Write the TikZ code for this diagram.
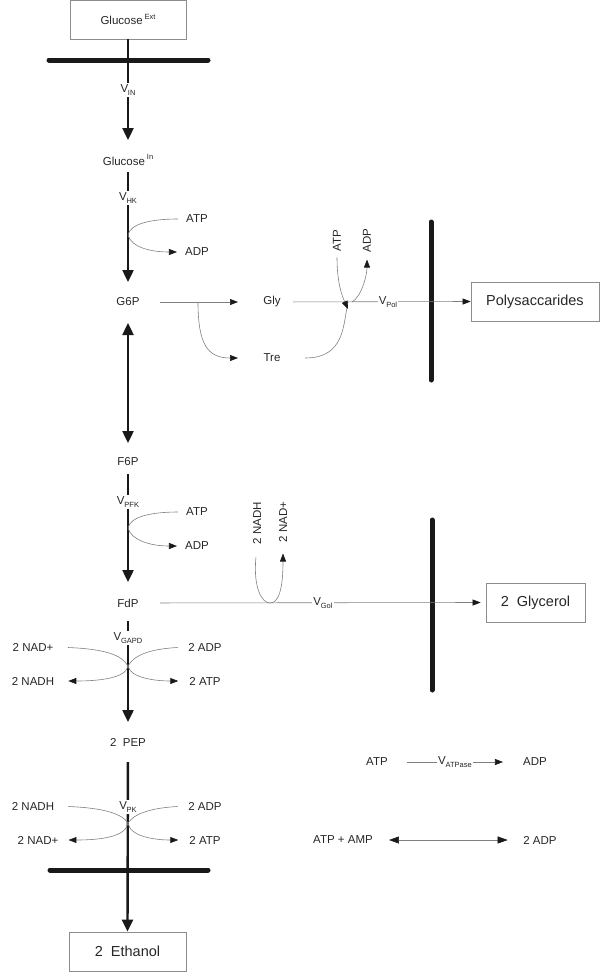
\documentclass[tikz,border=0pt]{standalone}
\usepackage{fontspec}
\setmainfont{Liberation Sans}
\usetikzlibrary{arrows.meta}
\newcommand\Vsb[1]{V\kern-0.2pt\raisebox{-0.45ex}{\fontsize{7.5}{8}\selectfont #1}}
\newcommand\Sup[1]{\raisebox{0.85ex}{\fontsize{7.5}{8}\selectfont #1}}
\begin{document}
\begin{tikzpicture}[x=1pt,y=-1pt,
  txt/.style={font=\fontsize{11.5}{13}\selectfont, text=black!85, inner sep=2pt},
  boxn/.style={draw=black!45, line width=0.7pt, text=black!85, inner sep=0pt},
  bigfont/.style={font=\fontsize{14.5}{17}\selectfont},
  flux/.style={line width=2.4pt, black!90},
  bigtip/.style={-{Triangle[length=12pt,width=11pt]}},
  bigtips/.style={{Triangle[length=12pt,width=11pt]}-{Triangle[length=12pt,width=11pt]}},
  thin/.style={line width=0.6pt, black!50},
  smalltip/.style={-{Triangle[length=8pt,width=6pt,color=black!90]}},
  smalltips/.style={{Triangle[length=10pt,width=7pt,color=black!90]}-{Triangle[length=10pt,width=7pt,color=black!90]}},
  mem/.style={line width=5pt, line cap=round, black!90},
  lab/.style={txt, fill=white, inner xsep=1pt, inner ysep=2pt},
]
\useasboundingbox (0,0) rectangle (600,972);

% ---------- nodes ----------
\node[boxn, minimum width=116pt, minimum height=39pt, font=\fontsize{11.5}{13}\selectfont] (gext) at (128,19.5) {Glucose\,\Sup{Ext}};
\node[txt] (gin) at (128,160) {Glucose\,\Sup{In}};
\node[txt] (g6p) at (128,302) {G6P};
\node[txt] (atp1) at (197,219) {ATP};
\node[txt] (adp1) at (197,252) {ADP};
\node[txt] (gly) at (272,302) {Gly};
\node[txt] (tre) at (272,358) {Tre};
\node[txt, rotate=90] (atp2) at (337,240.5) {ATP};
\node[txt, rotate=90] (adp2) at (367,240.5) {ADP};
\node[boxn, bigfont, minimum width=128pt, minimum height=39pt] (poly) at (535,301.5) {Polysaccarides};
\node[txt] (f6p) at (128,462) {F6P};
\node[txt] (atp3) at (197,512) {ATP};
\node[txt] (adp3) at (197,546) {ADP};
\node[txt] (fdp) at (128,603) {FdP};
\node[txt, rotate=90] (nadh1) at (257,523) {2 NADH};
\node[txt, rotate=90] (nad1) at (283,522) {2 NAD+};
\node[boxn, bigfont, minimum width=99pt, minimum height=39pt] (glyc) at (535.5,602.5) {2\ \ Glycerol};
\node[txt] (nad2) at (33,647) {2 NAD+};
\node[txt] (adp4) at (205,647) {2 ADP};
\node[txt] (nadh2) at (33,681) {2 NADH};
\node[txt] (atp4) at (205,681) {2 ATP};
\node[txt] (pep) at (128,742) {2\ \ PEP};
\node[txt] (nadh3) at (33,806) {2 NADH};
\node[txt] (adp5) at (205,806) {2 ADP};
\node[txt] (nad3) at (38,840) {2 NAD+};
\node[txt] (atp5) at (205,840) {2 ATP};
\node[boxn, bigfont, minimum width=117pt, minimum height=39pt] (eth) at (127.5,951.5) {2\ \ Ethanol};
\node[txt] (atp6) at (377,762) {ATP};
\node[txt] (adp6) at (535,762) {ADP};
\node[txt] (atpamp) at (343,840) {ATP + AMP};
\node[txt] (adp7) at (540,840) {2 ADP};

% ---------- junction points ----------
\coordinate (jhk) at (128,235);
\coordinate (jpfk) at (128,528);
\coordinate (br) at (198,302);
\coordinate (jpol) at (352,302);
\coordinate (jpolin) at (348,309);
\coordinate (jgol) at (270,603);
\coordinate (jg) at (128,666);
\coordinate (jpk) at (128,823);

% ---------- membranes ----------
\draw[mem] (49,60) -- (208,60);
\draw[mem] (50,870) -- (208,870);
\draw[mem] (431,222) -- (431,380);
\draw[mem] (432,520) -- (432,690);

% ---------- main flux ----------
\draw[flux,bigtip,shorten >=20pt] (gext.south) -- (gin.center);
\node[lab] (vin) at (128,90) {\Vsb{IN}};
\draw[flux,bigtip,shorten <=12pt,shorten >=20pt] (gin.center) -- (g6p.center);
\node[lab] (vhk) at (128,198) {\Vsb{HK}};
\draw[flux,bigtips,shorten <=21pt,shorten >=19pt] (g6p.center) -- (f6p.center);
\draw[flux,bigtip,shorten <=12pt,shorten >=21pt] (f6p.center) -- (fdp.center);
\node[lab] (vpfk) at (128,502) {\Vsb{PFK}};
\draw[flux,bigtip,shorten <=18pt,shorten >=20pt] (fdp.center) -- (pep.center);
\node[lab] (vgapd) at (128,638) {\Vsb{GAPD}};
\draw[flux,bigtip,shorten <=20pt] (pep.center) -- (eth.north);
\node[lab] (vpk) at (128,807) {\Vsb{PK}};

% ---------- HK / PFK cofactors ----------
\draw[thin,shorten <=6pt] (atp1.west) .. controls (150,219) and (130,224) .. (jhk);
\draw[thin,smalltip,shorten >=6pt] (jhk) .. controls (131,247) and (150,252) .. (adp1.west);
\draw[thin,shorten <=6pt] (atp3.west) .. controls (150,512) and (130,517) .. (jpfk);
\draw[thin,smalltip,shorten >=6pt] (jpfk) .. controls (131,540) and (150,546) .. (adp3.west);

% ---------- G6P branches ----------
\draw[thin,smalltip,shorten <=32pt,shorten >=34pt] (g6p.center) -- (gly.center);
\draw[thin,smalltip,shorten >=34pt] (br) .. controls (198,345) and (208,358) .. (tre.center);
\draw[thin,smalltip,shorten <=21pt] (gly.center) -- (poly.west);
\draw[thin,shorten <=33pt] (tre.center) .. controls (345,358) and (343,325) .. (348,302);
\node[lab] (vpol) at (388,302) {\Vsb{Pol}};
\draw[thin,smalltip,shorten <=4pt] (atp2.west) .. controls (337,285) and (343,298) .. (jpolin);
\draw[thin,smalltip,shorten >=5pt] (jpol) .. controls (362,296) and (367,275) .. (adp2.west);

% ---------- glycerol ----------
\draw[thin,smalltip,shorten <=32pt,shorten >=5pt] (fdp.center) -- (glyc.west);
\node[lab] (vgol) at (323,603) {\Vsb{Gol}};
\draw[thin,shorten <=11pt] (nadh1.west) .. controls (253,588) and (262,603) .. (jgol);
\draw[thin,smalltip,shorten >=9pt] (jgol) .. controls (279,603) and (283,588) .. (nad1.west);

% ---------- GAPD cofactors ----------
\draw[thin,shorten <=12.5pt] (nad2.east) .. controls (105,649) and (122,655) .. (jg);
\draw[thin,shorten <=8.5pt] (adp4.west) .. controls (150,649) and (134,655) .. (jg);
\draw[thin,smalltip,shorten >=12pt] (jg) .. controls (126,678) and (100,681) .. (nadh2.east);
\draw[thin,smalltip,shorten >=9pt] (jg) .. controls (130,678) and (156,681) .. (atp4.west);

% ---------- PK cofactors ----------
\draw[thin,shorten <=12pt] (nadh3.east) .. controls (105,808) and (122,814) .. (jpk);
\draw[thin,shorten <=8.5pt] (adp5.west) .. controls (150,808) and (134,814) .. (jpk);
\draw[thin,smalltip,shorten >=8pt] (jpk) .. controls (126,837) and (100,840) .. (nad3.east);
\draw[thin,smalltip,shorten >=9pt] (jpk) .. controls (130,837) and (156,840) .. (atp5.west);

% ---------- ATPase and adenylate kinase ----------
\draw[thin,smalltip,shorten <=17pt,shorten >=18pt] (atp6.east) -- (adp6.west);
\node[lab] (vatp) at (455,762) {\Vsb{ATPase}};
\draw[thin,smalltips,shorten <=14pt,shorten >=13.5pt] (atpamp.east) -- (adp7.west);
\end{tikzpicture}
\end{document}
